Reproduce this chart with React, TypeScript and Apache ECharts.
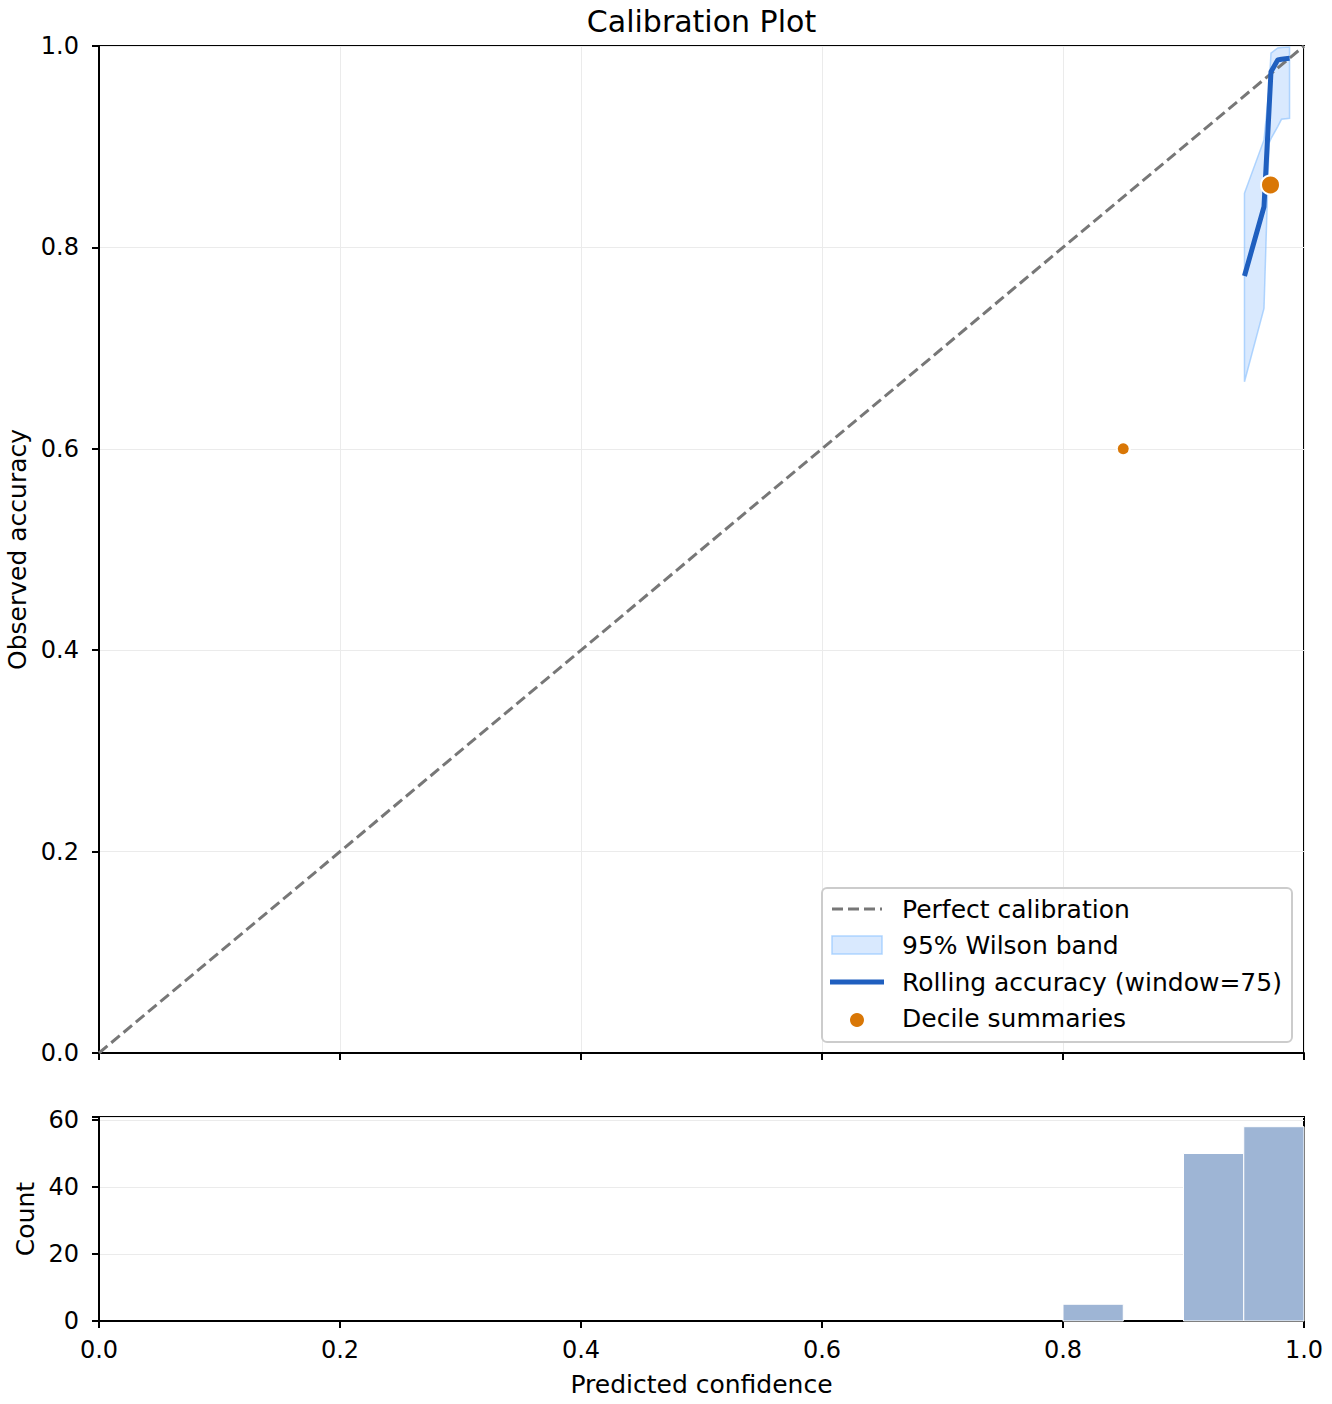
import React, { useEffect, useRef } from "react";
import * as echarts from "echarts";

// ---- data ----
const tickLabels = ["0.0", "0.2", "0.4", "0.6", "0.8", "1.0"];
const countTicks = [0, 20, 40, 60];
const diagonalX = [0, 1];
const diagonalY = [0, 1];
const rollX = [0.9506, 0.9668, 0.971, 0.9726, 0.9782, 0.9813, 0.988];
const rollAcc = [0.7716, 0.8404, 0.937, 0.9745, 0.9861, 0.9868, 0.9878];
const bandLower = [0.6666, 0.7395, 0.9034, 0.908, 0.92, 0.9272, 0.9282];
const bandUpper = [0.8537, 0.9067, 0.958, 0.993, 0.998, 0.9985, 0.999];
const decileConf = [0.85, 0.9722];
const decileAcc = [0.6, 0.862];
const decileCount = [5, 108];
const binStart = [0.8, 0.9, 0.95];
const binEnd = [0.85, 0.95, 1.0];
const binCount = [5, 50, 58];

const FONT = "DejaVu Sans, sans-serif";
const FS = 25;
const TFS = 24;
const BLUE = "#1f5fbf";
const ORANGE = "#d97706";
const GRAY = "#777777";
const BAND_FILL = "rgba(191,219,254,0.6)";
const BAND_EDGE = "rgba(147,197,253,0.7)";
const HIST = "#9eb5d5";

const W = 1332;
const H = 1404;
const G1 = { left: 99, top: 46, width: 1205, height: 1007 };
const G2 = { left: 99, top: 1117, width: 1205, height: 204 };

export default function App() {
  const ref = useRef<HTMLDivElement>(null);
  useEffect(() => {
    document.body.style.margin = "0";
    const chart = echarts.init(ref.current!, null, { renderer: "svg" });
    const axisLine = { show: true, lineStyle: { color: "#000", width: 2 } };
    const axisTick = { show: true, inside: false, length: 7, lineStyle: { color: "#000", width: 2 } };
    const split = { show: true, lineStyle: { color: "#ebebeb", width: 1 } };
    const labelStyle = { color: "#000", fontSize: TFS, fontFamily: FONT };
    const nameStyle = { color: "#000", fontSize: FS, fontFamily: FONT };
    const fmt = (v: number) => {
      const i = Math.round(v * 5);
      return tickLabels[i] ?? v.toFixed(1);
    };

    const lx = 822, ly = 888;
    const legendGraphic: any[] = [
      {
        type: "rect",
        shape: { x: lx, y: ly, width: 470, height: 154, r: 5 },
        style: { fill: "rgba(255,255,255,0.8)", stroke: "#cccccc", lineWidth: 2 },
        z: 100,
      },
      {
        type: "line",
        shape: { x1: lx + 10, y1: ly + 21, x2: lx + 60, y2: ly + 21 },
        style: { stroke: GRAY, lineWidth: 3, lineDash: [11, 5] },
        z: 101,
      },
      {
        type: "rect",
        shape: { x: lx + 10, y: ly + 48, width: 50, height: 18 },
        style: { fill: BAND_FILL, stroke: BAND_EDGE, lineWidth: 1.5 },
        z: 101,
      },
      {
        type: "line",
        shape: { x1: lx + 8, y1: ly + 94, x2: lx + 62, y2: ly + 94 },
        style: { stroke: BLUE, lineWidth: 5 },
        z: 101,
      },
      {
        type: "circle",
        shape: { cx: lx + 35, cy: ly + 132, r: 7 },
        style: { fill: ORANGE },
        z: 101,
      },
    ];
    const legendTexts = [
      "Perfect calibration",
      "95% Wilson band",
      "Rolling accuracy (window=75)",
      "Decile summaries",
    ];
    legendTexts.forEach((t, i) => {
      legendGraphic.push({
        type: "text",
        x: lx + 80,
        y: ly + 21 + i * 36.5,
        style: { text: t, font: `${FS}px ${FONT}`, fill: "#000", textVerticalAlign: "middle" },
        z: 101,
      });
    });

    chart.setOption({
      animation: false,
      backgroundColor: "#fff",
      grid: [
        { ...G1, show: true, borderColor: "#000", borderWidth: 2, containLabel: false, outerBoundsMode: "none" },
        { ...G2, show: true, borderColor: "#000", borderWidth: 2, containLabel: false, outerBoundsMode: "none" },
      ],
      xAxis: [
        {
          type: "value", gridIndex: 0, min: 0, max: 1, interval: 0.2,
          axisLine, axisTick, splitLine: split, axisLabel: { show: false },
        },
        {
          type: "value", gridIndex: 1, min: 0, max: 1, interval: 0.2,
          axisLine, axisTick, splitLine: { show: false },
          axisLabel: { ...labelStyle, margin: 17, formatter: fmt },
          name: "Predicted confidence", nameLocation: "middle", nameGap: 51,
          nameTextStyle: nameStyle,
        },
      ],
      yAxis: [
        {
          type: "value", gridIndex: 0, min: 0, max: 1, interval: 0.2,
          axisLine, axisTick, splitLine: split,
          axisLabel: { ...labelStyle, margin: 20, formatter: fmt },
          name: "Observed accuracy", nameLocation: "middle", nameGap: 69, nameRotate: 90,
          nameTextStyle: nameStyle,
        },
        {
          type: "value", gridIndex: 1, min: 0, max: 60.9, interval: 20,
          axisLine, axisTick, splitLine: split,
          axisLabel: {
            ...labelStyle, margin: 20,
            formatter: (v: number) => (countTicks.includes(v) ? String(v) : ""),
          },
          name: "Count", nameLocation: "middle", nameGap: 60, nameRotate: 90,
          nameTextStyle: nameStyle,
        },
      ],
      graphic: [
        {
          type: "text",
          x: G1.left + G1.width / 2,
          y: 21,
          style: {
            text: "Calibration Plot", font: `30px ${FONT}`, fill: "#000",
            textAlign: "center", textVerticalAlign: "middle",
          },
        },
        ...legendGraphic,
      ],
      series: [
        {
          type: "custom",
          name: "95% Wilson band",
          xAxisIndex: 0, yAxisIndex: 0,
          data: rollX.map((x, i) => [x, bandLower[i], bandUpper[i]]),
          encode: { x: 0, y: [1, 2] },
          z: 2,
          renderItem: (params: any, api: any) => {
            if (params.dataIndex !== 0) return null;
            const pts: number[][] = [];
            rollX.forEach((x, i) => pts.push(api.coord([x, bandUpper[i]])));
            for (let i = rollX.length - 1; i >= 0; i--) pts.push(api.coord([rollX[i], bandLower[i]]));
            return {
              type: "polygon",
              shape: { points: pts },
              style: { fill: BAND_FILL, stroke: BAND_EDGE, lineWidth: 1.5 },
            };
          },
        },
        {
          type: "line",
          name: "Perfect calibration",
          xAxisIndex: 0, yAxisIndex: 0,
          data: diagonalX.map((x, i) => [x, diagonalY[i]]),
          showSymbol: false, symbol: "none",
          lineStyle: { color: GRAY, width: 3, type: [11, 5] },
          z: 3,
        },
        {
          type: "line",
          name: "Rolling accuracy (window=75)",
          xAxisIndex: 0, yAxisIndex: 0,
          data: rollX.map((x, i) => [x, rollAcc[i]]),
          showSymbol: false, symbol: "none",
          lineStyle: { color: BLUE, width: 5, cap: "butt", join: "round" },
          z: 4,
        },
        {
          type: "scatter",
          name: "Decile summaries",
          xAxisIndex: 0, yAxisIndex: 0,
          data: decileConf.map((x, i) => [x, decileAcc[i], decileCount[i]]),
          symbolSize: (v: number[]) => (v[2] > 50 ? 19 : 13),
          itemStyle: { color: ORANGE, borderColor: "#fff", borderWidth: 2, opacity: 1 },
          z: 5,
        },
        {
          type: "custom",
          name: "Count",
          xAxisIndex: 1, yAxisIndex: 1,
          data: binStart.map((s, i) => [s, binEnd[i], binCount[i]]),
          encode: { x: [0, 1], y: 2 },
          renderItem: (params: any, api: any) => {
            const p0 = api.coord([api.value(0), api.value(2)]);
            const p1 = api.coord([api.value(1), 0]);
            return {
              type: "rect",
              shape: { x: p0[0], y: p0[1], width: p1[0] - p0[0], height: p1[1] - p0[1] },
              style: { fill: HIST, stroke: "#fff", lineWidth: 1 },
            };
          },
        },
      ],
    });
    return () => chart.dispose();
  }, []);
  return <div ref={ref} style={{ width: W, height: H }} />;
}
